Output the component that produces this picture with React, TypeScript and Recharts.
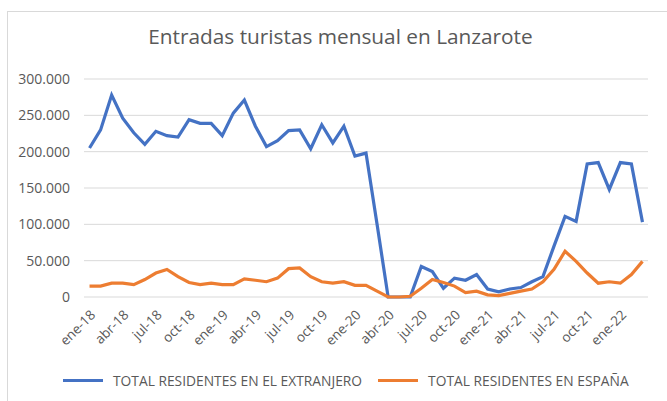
import React from "react";
import { LineChart, Line, XAxis, YAxis, CartesianGrid, Legend } from "recharts";

const months = [
  "ene-18", "feb-18", "mar-18", "abr-18", "may-18", "jun-18", "jul-18", "ago-18", "sep-18", "oct-18", "nov-18", "dic-18",
  "ene-19", "feb-19", "mar-19", "abr-19", "may-19", "jun-19", "jul-19", "ago-19", "sep-19", "oct-19", "nov-19", "dic-19",
  "ene-20", "feb-20", "mar-20", "abr-20", "may-20", "jun-20", "jul-20", "ago-20", "sep-20", "oct-20", "nov-20", "dic-20",
  "ene-21", "feb-21", "mar-21", "abr-21", "may-21", "jun-21", "jul-21", "ago-21", "sep-21", "oct-21", "nov-21", "dic-21",
  "ene-22", "feb-22", "mar-22",
];

const extranjero = [
  205000, 230000, 278000, 246000, 226000, 210000, 228000, 222000, 220000, 244000, 239000, 239000,
  222000, 253000, 271000, 235000, 207000, 215000, 229000, 230000, 204000, 237000, 212000, 235000,
  194000, 198000, 100000, 0, 0, 0, 42000, 35000, 12000, 26000, 23000, 31000,
  11000, 7000, 11000, 13000, 21000, 28000, 70000, 111000, 104000, 183000, 185000, 148000,
  185000, 183000, 103000,
];

const espana = [
  15000, 15000, 19000, 19000, 17000, 24000, 33000, 38000, 28000, 20000, 17000, 19000,
  17000, 17000, 25000, 23000, 21000, 26000, 39000, 40000, 28000, 21000, 19000, 21000,
  16000, 16000, 8000, 0, 0, 1000, 12000, 24000, 20000, 15000, 6000, 8000,
  3000, 2000, 5000, 8000, 11000, 21000, 38000, 63000, 49000, 33000, 19000, 21000,
  19000, 31000, 49000,
];

const yTicks = [0, 50000, 100000, 150000, 200000, 250000, 300000];

const seriesNames = ["TOTAL RESIDENTES EN EL EXTRANJERO", "TOTAL RESIDENTES EN ESPAÑA"];
const colors = ["#4472C4", "#ED7D31"];

const data = months.map((m, i) => ({ x: i + 0.5, month: m, ext: extranjero[i], esp: espana[i] }));

const boundaryTicks: number[] = [];
for (let i = 0; i <= months.length; i += 3) boundaryTicks.push(i);
const labelTicks: number[] = [];
for (let i = 0; i < months.length; i += 3) labelTicks.push(i + 0.5);

const fmt = (v: number) => String(v).replace(/\B(?=(\d{3})+(?!\d))/g, ".");

const FONT = "'Open Sans', sans-serif";
const GREY = "#595959";

const renderLegend = (props: any) => {
  const payload = props.payload || [];
  return (
    <div style={{ display: "flex", alignItems: "center", paddingLeft: 63, height: 30, fontFamily: FONT, fontSize: 13.8, color: GREY, whiteSpace: "nowrap" }}>
      {payload.map((p: any, idx: number) => (
        <div key={idx} style={{ display: "flex", alignItems: "center", marginRight: 16 }}>
          <div style={{ width: 40, height: 3, background: p.color, marginRight: 10 }} />
          <span>{p.value}</span>
        </div>
      ))}
    </div>
  );
};

export default function App() {
  return (
    <div style={{ position: "absolute", left: 0, top: 0, width: 667, height: 401, overflow: "hidden", background: "#fff" }}>
      <div style={{ position: "absolute", left: 7, top: 11, width: 720, height: 420, border: "1px solid #d9d9d9", boxSizing: "border-box" }} />
      <div style={{ position: "absolute", left: 0, width: 681, top: 23, textAlign: "center", fontFamily: FONT, fontSize: 20.8, color: GREY, lineHeight: "26px", whiteSpace: "nowrap" }}>
        Entradas turistas mensual en Lanzarote
      </div>
      <div style={{ position: "absolute", left: 0, top: 0 }}>
        <LineChart width={667} height={401} data={data} margin={{ top: 79, right: 19, left: 0, bottom: 6 }}>
          <CartesianGrid vertical={false} stroke="#d9d9d9" strokeWidth={1} xAxisId="ticks" />
          <XAxis
            xAxisId="ticks"
            dataKey="x"
            type="number"
            domain={[0, months.length]}
            ticks={boundaryTicks}
            interval={0}
            height={0}
            tickFormatter={() => ""}
            stroke="#d9d9d9"
            tickSize={6}
            axisLine={{ stroke: "#d9d9d9" }}
            tickLine={{ stroke: "#d9d9d9" }}
          />
          <XAxis
            xAxisId="labels"
            dataKey="x"
            type="number"
            domain={[0, months.length]}
            ticks={labelTicks}
            interval={0}
            height={68}
            axisLine={false}
            tickLine={false}
            tickMargin={6}
            angle={-45}
            textAnchor="end"
            tickFormatter={(v: number) => months[Math.floor(v)]}
            tick={{ fill: GREY, fontSize: 13.5, fontFamily: FONT }}
          />
          <YAxis
            width={84}
            domain={[0, 300000]}
            ticks={yTicks}
            axisLine={false}
            tickLine={false}
            tickMargin={8}
            tickFormatter={fmt}
            tick={{ fill: GREY, fontSize: 14, fontFamily: FONT }}
          />
          <Legend verticalAlign="bottom" height={30} content={renderLegend} />
          <Line xAxisId="ticks" type="linear" dataKey="ext" name={seriesNames[0]} stroke={colors[0]} strokeWidth={3.2} dot={false} isAnimationActive={false} />
          <Line xAxisId="ticks" type="linear" dataKey="esp" name={seriesNames[1]} stroke={colors[1]} strokeWidth={3.2} dot={false} isAnimationActive={false} />
        </LineChart>
      </div>
    </div>
  );
}
